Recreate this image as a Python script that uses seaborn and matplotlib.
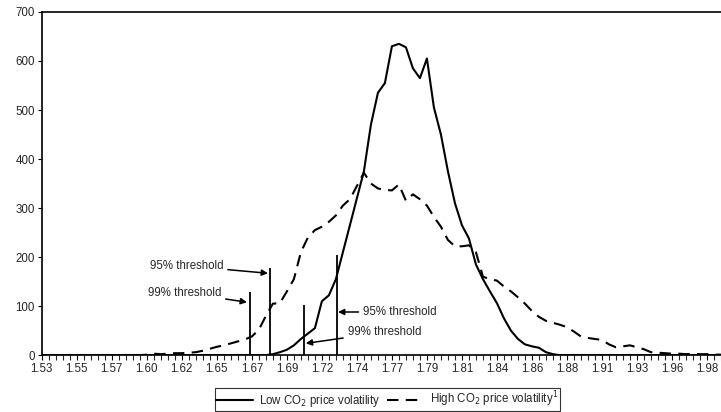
import numpy as np
import pandas as pd
import matplotlib
matplotlib.use("Agg")
import matplotlib.pyplot as plt
import seaborn as sns

# bin index along the x axis (labels every 5 bins)
bins = list(range(98))

low_vol = [0] * 33 + [
    2, 6, 11, 20, 33, 44, 55, 110, 122, 155,
    210, 265, 320, 375, 470, 535, 555, 630, 635, 628,
    585, 565, 605, 505, 450, 375, 310, 265, 238, 185,
    155, 130, 106, 75, 50, 33, 22, 18, 15, 6,
    2] + [0] * 24

high_vol = [0] * 15 + [
    1, 3, 2, 3, 4, 4, 5, 6, 9, 13,
    17, 20, 24, 28, 32, 38, 52, 80, 105, 106,
    130, 155, 210, 240, 255, 262, 272, 285, 305, 318,
    345, 372, 350, 340, 337, 336, 348, 315, 328, 318,
    305, 282, 262, 235, 222, 222, 224, 210, 160, 155,
    152, 140, 130, 118, 105, 90, 78, 70, 66, 62,
    57, 48, 38, 35, 33, 31, 22, 16, 18, 20,
    16, 12, 6, 5, 4, 3, 3, 2, 3, 2,
    2, 1, 1]

tick_labels = ["1.53", "1.55", "1.57", "1.60", "1.62", "1.65", "1.67", "1.69",
               "1.72", "1.74", "1.77", "1.79", "1.81", "1.84", "1.86", "1.88",
               "1.91", "1.93", "1.96", "1.98"]

# threshold markers: bin position and line top
thr_x = [29.7, 32.6, 37.4, 42.1]
thr_top = [128, 177, 102, 204]

df = pd.DataFrame({"bin": bins, "low": low_vol, "high": high_vol})

sns.set_style("white")
plt.rcParams["font.family"] = ["Liberation Sans", "DejaVu Sans"]

fig = plt.figure(figsize=(7.21, 4.12), dpi=100)
ax = fig.add_axes([0.058, 0.138, 0.942, 0.833])

sns.lineplot(data=df, x="bin", y="low", ax=ax, color="black", lw=1.5,
             label="Low CO$_2$ price volatility")
sns.lineplot(data=df, x="bin", y="high", ax=ax, color="black", lw=1.5,
             dashes=(5.5, 3.5), label="High CO$_2$ price volatility$^{1}$")

ax.vlines(thr_x, 0, thr_top, color="black", lw=1.3)

arrow = dict(arrowstyle="-|>", color="black", lw=1.1, mutation_scale=9,
             shrinkA=1, shrinkB=0)
fs = 8.3
ax.annotate("95% threshold", xy=(32.3, 167), xytext=(25.9, 182),
            ha="right", va="center", fontsize=fs, arrowprops=arrow)
ax.annotate("99% threshold", xy=(29.3, 108), xytext=(25.6, 127),
            ha="right", va="center", fontsize=fs, arrowprops=arrow)
ax.annotate("95% threshold", xy=(42.3, 88), xytext=(45.9, 88),
            ha="left", va="center", fontsize=fs, arrowprops=arrow)
ax.annotate("99% threshold", xy=(37.7, 24), xytext=(43.7, 47),
            ha="left", va="center", fontsize=fs, arrowprops=arrow)

ax.set_xlim(0, 97)
ax.set_ylim(0, 700)
ax.set_xticks(range(0, 96, 5))
ax.set_xticklabels(tick_labels)
ax.set_xticks(range(0, 98), minor=True)
ax.set_yticks(range(0, 701, 100))
ax.set_xlabel("")
ax.set_ylabel("")
ax.tick_params(axis="both", labelsize=fs, length=3, width=0.8, color="black",
               pad=2, direction="out")
ax.tick_params(axis="x", which="both", bottom=True, length=3.5, width=0.8)
ax.tick_params(axis="y", left=True)

for side in ["left", "bottom", "top"]:
    ax.spines[side].set_color("black")
    ax.spines[side].set_linewidth(1.2)
ax.spines["right"].set_visible(False)

ax.get_legend().remove()
h, l = ax.get_legend_handles_labels()
leg = fig.legend(h, l, loc="center", bbox_to_anchor=(0.537, 0.03), ncol=2,
                 fontsize=fs, frameon=True, fancybox=False, handlelength=3.2,
                 columnspacing=0.6, handletextpad=0.5, borderpad=0.12)
leg.get_frame().set_edgecolor("black")
leg.get_frame().set_linewidth(0.8)

fig.savefig("out.png", dpi=100)
